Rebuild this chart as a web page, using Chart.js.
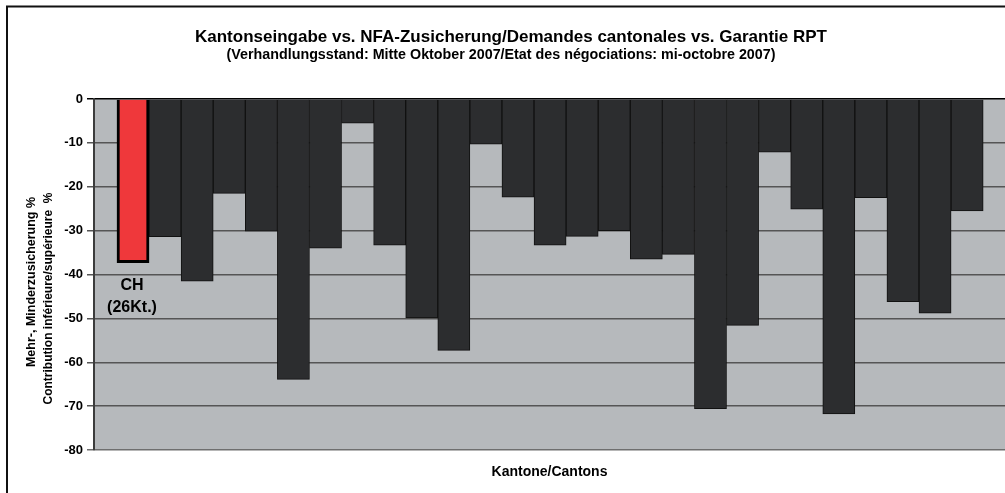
<!DOCTYPE html>
<html>
<head>
<meta charset="utf-8">
<script src="https://cdn.jsdelivr.net/npm/chart.js@4.4.1/dist/chart.umd.min.js"></script>
<style>
  body { margin: 0; background: #fff; }
  #wrap { position: relative; width: 1005px; height: 493px; }
</style>
</head>
<body>
<div id="wrap"><canvas id="myChart"></canvas></div>
<script>
// CH total first, then the 26 cantons (no labels shown in the original)
const cantons = ["CH (26Kt.)", "1", "2", "3", "4", "5", "6", "7", "8", "9", "10", "11", "12", "13",
  "14", "15", "16", "17", "18", "19", "20", "21", "22", "23", "24", "25", "26"];
const diffPercent = [-37.3, -31.4, -41.5, -21.5, -30.1, -63.9, -34.0, -5.5, -33.3, -49.9, -57.3,
  -10.3, -22.4, -33.3, -31.3, -30.0, -36.5, -35.4, -70.6, -51.6, -12.1,
  -25.1, -71.8, -22.5, -46.2, -48.8, -25.5];
const yMin = -80;
const yMax = 0;
const yStep = 10;

const titleText = "Kantonseingabe vs. NFA-Zusicherung/Demandes cantonales vs. Garantie RPT";
const subtitleText = "(Verhandlungsstand: Mitte Oktober 2007/Etat des négociations: mi-octobre 2007)";
const yTitleLines = ["Mehr-, Minderzusicherung %", "Contribution inférieure/supérieure  %"];
const xTitle = "Kantone/Cantons";
const chLabel = ["CH", "(26Kt.)"];

const FONT = "'Liberation Sans', Arial, sans-serif";

// frame, titles, rotated y title and the CH note
const decorations = {
  id: "decorations",
  beforeDraw(chart) {
    const { ctx, chartArea } = chart;
    ctx.save();
    ctx.fillStyle = "#b6b9bc";
    ctx.fillRect(chartArea.left, chartArea.top, chartArea.right - chartArea.left, chartArea.bottom - chartArea.top);
    ctx.restore();
  },
  afterDraw(chart) {
    const ctx = chart.ctx;
    ctx.save();
    ctx.strokeStyle = "#111";
    ctx.lineWidth = 2;
    ctx.strokeRect(7, 6.5, 1100, 600);

    ctx.fillStyle = "#000";
    ctx.textAlign = "center";
    ctx.textBaseline = "middle";
    ctx.font = "bold 17px " + FONT;
    ctx.fillText(titleText, 511, 37);
    ctx.font = "bold 14.3px " + FONT;
    ctx.fillText(subtitleText, 501, 55);

    ctx.font = "bold 12.5px " + FONT;
    ctx.save();
    ctx.translate(31.5, 282);
    ctx.rotate(-Math.PI / 2);
    ctx.fillText(yTitleLines[0], 0, 0);
    ctx.restore();
    ctx.font = "bold 12px " + FONT;
    ctx.save();
    ctx.translate(48.5, 298.5);
    ctx.rotate(-Math.PI / 2);
    ctx.fillText(yTitleLines[1], 0, 0);
    ctx.restore();

    const bar = chart.getDatasetMeta(0).data[0];
    ctx.font = "bold 16px " + FONT;
    ctx.fillText(chLabel[0], bar.x - 1, bar.y + 23);
    ctx.fillText(chLabel[1], bar.x - 1, bar.y + 45);
    ctx.restore();
  },
};

const ctx = document.getElementById("myChart").getContext("2d");
const myChart = new Chart(ctx, {
  type: "bar",
  data: {
    labels: cantons,
    datasets: [
      {
        label: "Mehr-, Minderzusicherung %",
        data: diffPercent.map((v, i) => ({ x: i, y: v })),
        backgroundColor: diffPercent.map((v, i) => (i === 0 ? "#ef383b" : "#2c2d2f")),
        borderColor: diffPercent.map((v, i) => (i === 0 ? "#000" : "#111")),
        borderWidth: diffPercent.map((v, i) => (i === 0 ? 3 : 1)),
        barPercentage: 1,
        categoryPercentage: 1,
      },
    ],
  },
  options: {
    responsive: true,
    maintainAspectRatio: false,
    animation: false,
    layout: { padding: { top: 99, right: 0, bottom: 0, left: 0 } },
    plugins: {
      legend: { display: false },
      title: { display: false },
      tooltip: { enabled: false },
    },
    scales: {
      x: {
        type: "linear",
        offset: false,
        min: -1.216,
        max: 27.18,
        grid: { display: false, drawTicks: false },
        border: { display: false },
        ticks: { display: false },
        title: {
          display: true,
          text: xTitle,
          color: "#000",
          font: { family: FONT, size: 14, weight: "bold" },
          padding: { top: 13.8, bottom: 12.4 },
        },
      },
      y: {
        min: yMin,
        max: yMax,
        afterFit(scale) {
          scale.width = 94;
        },
        ticks: {
          stepSize: yStep,
          color: "#000",
          padding: 4,
          font: { family: FONT, size: 13, weight: "bold" },
        },
        grid: {
          color: (c) => (c.tick && c.tick.value === 0 ? "#000" : c.tick && c.tick.value === yMin ? "#6e6e6e" : "#555"),
          lineWidth: 1.5,
          tickLength: 7,
        },
        border: { display: true, color: "#3c3c3c", width: 2 },
      },
    },
  },
  plugins: [decorations],
});
</script>
</body>
</html>
